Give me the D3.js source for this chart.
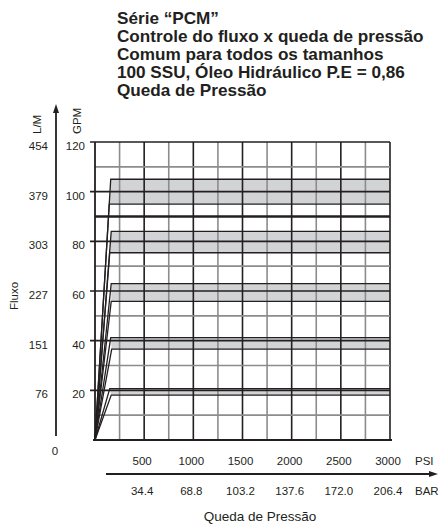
<!DOCTYPE html>
<html>
<head>
<meta charset="utf-8">
<script src="https://cdn.jsdelivr.net/npm/d3@7/dist/d3.min.js"></script>
<style>
  html, body { margin: 0; padding: 0; background: #fff; }
  svg { display: block; font-family: "Liberation Sans", Arial, Helvetica, sans-serif; }
</style>
</head>
<body>
<svg id="chart" width="441" height="531"></svg>
<script>
// Title lines
const titleLines = [
  "Série “PCM”",
  "Controle do fluxo x queda de pressão",
  "Comum para todos os tamanhos",
  "100 SSU, Óleo Hidráulico P.E = 0,86",
  "Queda de Pressão"
];

// Flow axis (GPM) ticks and their L/M equivalents
const gpmTicks = [20, 40, 60, 80, 100, 120];
const lmLabels = ["76", "151", "227", "303", "379", "454"];

// Pressure axis ticks (PSI) and BAR equivalents
const psiTicks = [500, 1000, 1500, 2000, 2500, 3000];
const barLabels = ["34.4", "68.8", "103.2", "137.6", "172.0", "206.4"];

// Flow-control bands: upper and lower flow (GPM) and the pressure (PSI)
// at which each edge of the band levels off
const bandUpper = [105, 84, 63, 41.2, 20.7];
const bandLower = [95, 75.4, 55.8, 36.6, 18.1];
const bandUpperKnee = [160, 165, 165, 160, 150];
const bandLowerKnee = [145, 150, 165, 170, 165];

const svg = d3.select("#chart");
const x = d3.scaleLinear().domain([0, 3000]).range([95, 390]);
const y = d3.scaleLinear().domain([0, 120]).range([440, 142]);

const dark = "#231f20";
const gray = "#8c8c8c";

// Title: tightly leaded bold block, widened slightly
svg.append("g")
  .attr("transform", "translate(117,0) scale(1.1,1)")
  .selectAll("text").data(titleLines).join("text")
  .attr("x", 0)
  .attr("y", (d, i) => 24 + i * 18)
  .attr("font-size", 15.6)
  .attr("font-weight", "bold")
  .attr("fill", dark)
  .text(d => d);

// Band fills (under the grid)
const bands = bandUpper.map((u, i) => ({
  upper: u, lower: bandLower[i], ku: bandUpperKnee[i], kl: bandLowerKnee[i]
}));
svg.append("g").selectAll("path").data(bands).join("path")
  .attr("d", b => d3.line()([
    [x(b.ku), y(b.upper)], [x(3000), y(b.upper)],
    [x(3000), y(b.lower)], [x(b.kl), y(b.lower)]
  ]) + "Z")
  .attr("fill", "#d2d3d5");

// Grid: minor (gray) and major (dark) lines
const grid = svg.append("g").attr("fill", "none");
const vMinor = d3.range(250, 3000, 500);
const vMajor = d3.range(500, 3001, 500);
grid.selectAll(".vmin").data(vMinor).join("line")
  .attr("x1", d => x(d)).attr("x2", d => x(d))
  .attr("y1", y(120)).attr("y2", y(0))
  .attr("stroke", gray).attr("stroke-width", 1.6);
grid.selectAll(".vmaj").data(vMajor).join("line")
  .attr("x1", d => x(d)).attr("x2", d => x(d))
  .attr("y1", y(120)).attr("y2", y(0))
  .attr("stroke", dark).attr("stroke-width", 1.6);

const hMinor = [10, 30, 50, 70, 110];
grid.selectAll(".hmin").data(hMinor).join("line")
  .attr("x1", x(0)).attr("x2", x(3000))
  .attr("y1", d => y(d)).attr("y2", d => y(d))
  .attr("stroke", gray).attr("stroke-width", 1.6);
grid.selectAll(".hmaj").data(gpmTicks).join("line")
  .attr("x1", x(0) - 5).attr("x2", x(3000))
  .attr("y1", d => y(d)).attr("y2", d => y(d))
  .attr("stroke", dark).attr("stroke-width", 1.6);
// heavy line at 90 GPM
grid.append("line")
  .attr("x1", x(0)).attr("x2", x(3000))
  .attr("y1", y(90)).attr("y2", y(90))
  .attr("stroke", dark).attr("stroke-width", 2.6);
// left and bottom frame
grid.append("line")
  .attr("x1", x(0)).attr("x2", x(0))
  .attr("y1", y(120)).attr("y2", y(0))
  .attr("stroke", dark).attr("stroke-width", 1.8);
grid.append("line")
  .attr("x1", x(0) - 2).attr("x2", x(3000) + 2)
  .attr("y1", y(0)).attr("y2", y(0))
  .attr("stroke", dark).attr("stroke-width", 1.8);

// Band edges: rise from the origin, then level off
const edge = d3.line();
const edges = svg.append("g").attr("fill", "none").attr("stroke", dark).attr("stroke-width", 1.3);
bands.forEach(b => {
  edges.append("path").attr("d", edge([[x(0), y(0)], [x(b.ku), y(b.upper)], [x(3000), y(b.upper)]]));
  edges.append("path").attr("d", edge([[x(0), y(0)], [x(b.kl), y(b.lower)], [x(3000), y(b.lower)]]));
});

// Flow axis labels
const lab = svg.append("g").attr("fill", dark).attr("font-size", 11.5);
lab.selectAll(".gpm").data(gpmTicks).join("text")
  .attr("x", 85).attr("y", d => y(d) + 4).attr("dy", "0.35em")
  .attr("text-anchor", "end").text(d => d);
lab.selectAll(".lm").data(gpmTicks).join("text")
  .attr("x", 48).attr("y", d => y(d) + 4).attr("dy", "0.35em")
  .attr("text-anchor", "end").text((d, i) => lmLabels[i]);
lab.append("text").attr("x", 55).attr("y", 451).attr("dy", "0.35em")
  .attr("text-anchor", "middle").text("0");

lab.append("text").attr("transform", "translate(41,134) rotate(-90)")
  .attr("font-size", 11.5).text("L/M");
lab.append("text").attr("transform", "translate(81,134) rotate(-90)")
  .attr("font-size", 11.5).text("GPM");
lab.append("text").attr("transform", "translate(18,296) rotate(-90)")
  .attr("text-anchor", "middle").attr("font-size", 11.5).text("Fluxo");

// Flow axis arrow
svg.append("line").attr("x1", 56).attr("x2", 56).attr("y1", 110).attr("y2", 436)
  .attr("stroke", dark).attr("stroke-width", 1.8);
svg.append("path").attr("d", "M56,104 L53,113 L59,113 Z").attr("fill", dark);

// Pressure axis labels
lab.selectAll(".psi").data(psiTicks).join("text")
  .attr("x", d => x(d) - 2).attr("y", 460.5).attr("dy", "0.35em")
  .attr("text-anchor", "middle").text(d => d);
lab.selectAll(".bar").data(psiTicks).join("text")
  .attr("x", d => x(d) - 2).attr("y", 491).attr("dy", "0.35em")
  .attr("text-anchor", "middle").text((d, i) => barLabels[i]);
lab.append("text").attr("x", 415).attr("y", 460.5).attr("dy", "0.35em").text("PSI");
lab.append("text").attr("x", 415).attr("y", 491).attr("dy", "0.35em").text("BAR");
lab.append("text").attr("x", 260).attr("y", 516).attr("dy", "0.35em")
  .attr("text-anchor", "middle").attr("font-size", 13.5).text("Queda de Pressão");

// Pressure axis arrow
svg.append("line").attr("x1", 106).attr("x2", 430).attr("y1", 474).attr("y2", 474)
  .attr("stroke", dark).attr("stroke-width", 1.8);
svg.append("path").attr("d", "M438,474 L429,471 L429,477 Z").attr("fill", dark);
</script>
</body>
</html>
